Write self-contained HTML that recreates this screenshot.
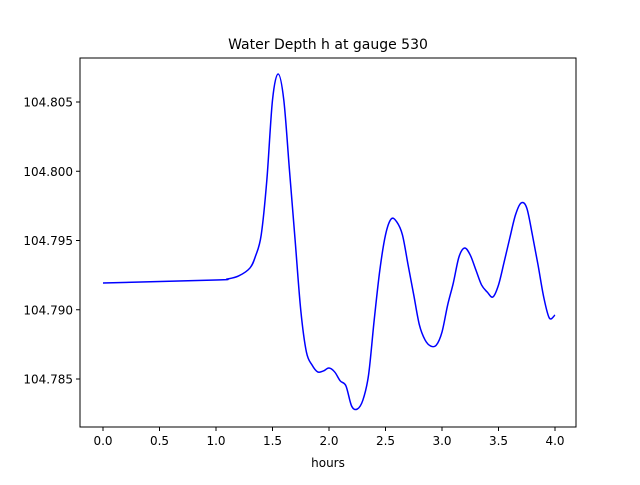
<!DOCTYPE html>
<html><head><meta charset="utf-8"><style>
body{margin:0;background:#fff;}
svg text{font-family:"DejaVu Sans","Liberation Sans",sans-serif;fill:#000;}
</style></head><body>
<svg width="640" height="480" xmlns="http://www.w3.org/2000/svg">
<rect x="0" y="0" width="640" height="480" fill="#fff"/>
<text x="328" y="49" font-size="14" text-anchor="middle">Water Depth h at gauge 530</text>
<g id="xt"></g>
<g id="yt"></g>
<path id="line" fill="none" stroke="#0000ff" stroke-width="1.5"/>
<rect x="80" y="58" width="496" height="369" fill="none" stroke="#000" stroke-width="1"/>
<text x="328" y="467" font-size="12" text-anchor="middle">hours</text>
</svg>
<script>
const hours=[0,1.0,1.1,1.2,1.3,1.35,1.4,1.45,1.5,1.55,1.6,1.65,1.7,1.75,1.8,1.85,1.9,1.95,2.0,2.05,2.1,2.15,2.2,2.25,2.3,2.35,2.4,2.45,2.5,2.55,2.6,2.65,2.7,2.75,2.8,2.85,2.9,2.95,3.0,3.05,3.1,3.15,3.2,3.25,3.3,3.35,3.4,3.45,3.5,3.55,3.6,3.65,3.7,3.75,3.8,3.85,3.9,3.95,4.0];
const depth=[104.79193,104.79215,104.79222,104.79244,104.79301,104.79388,104.7954,104.79937,104.80514,104.80702,104.80514,104.80009,104.79504,104.78998,104.78695,104.78601,104.78551,104.78558,104.78579,104.78551,104.78486,104.7845,104.78305,104.78283,104.78348,104.78529,104.78926,104.79287,104.7954,104.79655,104.79634,104.7954,104.79323,104.79107,104.7889,104.78782,104.78738,104.78745,104.78839,104.79034,104.79193,104.79381,104.79446,104.79395,104.79287,104.79179,104.79128,104.79092,104.79179,104.79345,104.79518,104.79684,104.79771,104.79735,104.7954,104.79323,104.79092,104.7894,104.78962];
const xTicks=[0,0.5,1.0,1.5,2.0,2.5,3.0,3.5,4.0];
const yTicks=[104.785,104.790,104.795,104.800,104.805];
const NS="http://www.w3.org/2000/svg";
function X(h){return 103+h*113;}
function Y(v){return 379-(v-104.785)/0.005*69.25;}
const xt=document.getElementById('xt'),yt=document.getElementById('yt');
xTicks.forEach(t=>{
 const l=document.createElementNS(NS,'line');
 l.setAttribute('x1',X(t));l.setAttribute('x2',X(t));l.setAttribute('y1',427);l.setAttribute('y2',431);l.setAttribute('stroke','#000');
 
 
 xt.appendChild(l);
 const s=document.createElementNS(NS,'text');
 s.setAttribute('x',X(t));s.setAttribute('y',445);s.setAttribute('font-size','12');s.setAttribute('text-anchor','middle');
 s.textContent=t.toFixed(1);
 
 
 xt.appendChild(s);
});
yTicks.forEach(t=>{
 const l=document.createElementNS(NS,'line');
 l.setAttribute('x1',76);l.setAttribute('x2',80);l.setAttribute('y1',Y(t));l.setAttribute('y2',Y(t));l.setAttribute('stroke','#000');
 
 
 yt.appendChild(l);
 const s=document.createElementNS(NS,'text');
 s.setAttribute('x',73);s.setAttribute('y',Y(t)+4.5);s.setAttribute('font-size','12');s.setAttribute('text-anchor','end');
 s.textContent=t.toFixed(3);
 
 
 yt.appendChild(s);
});
const P=hours.map((h,i)=>[X(h),Y(depth[i])]);
let d='M'+P[0][0]+','+P[0][1];
for(let i=0;i<P.length-1;i++){
 const p0=P[Math.max(0,i-1)],p1=P[i],p2=P[i+1],p3=P[Math.min(P.length-1,i+2)];
 const c1=[p1[0]+(p2[0]-p0[0])/6,p1[1]+(p2[1]-p0[1])/6];
 const c2=[p2[0]-(p3[0]-p1[0])/6,p2[1]-(p3[1]-p1[1])/6];
 d+=' C'+c1[0]+','+c1[1]+' '+c2[0]+','+c2[1]+' '+p2[0]+','+p2[1];
}
document.getElementById('line').setAttribute('d',d);
</script>
</body></html>
